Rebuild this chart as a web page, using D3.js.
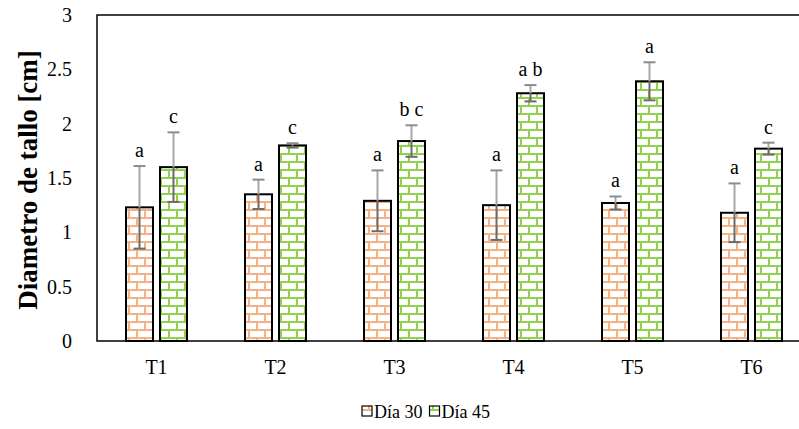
<!DOCTYPE html>
<html><head><meta charset="utf-8">
<script src="https://cdn.jsdelivr.net/npm/d3@7"></script>
<style>body{margin:0;background:#fff}svg{display:block}
svg text{font-family:"Liberation Serif","Times New Roman",serif;fill:#000}</style>
</head><body>
<svg id="c" width="799" height="429"></svg>
<script>
const categories = ["T1","T2","T3","T4","T5","T6"];
const seriesNames = ["Día 30","Día 45"];
const dia30 = [1.23, 1.35, 1.29, 1.25, 1.27, 1.18];
const dia45 = [1.60, 1.80, 1.84, 2.28, 2.39, 1.77];
const err30 = [0.38, 0.135, 0.28, 0.32, 0.06, 0.27];
const err45 = [0.32, 0.02, 0.145, 0.075, 0.175, 0.055];
const letters30 = ["a","a","a","a","a","a"];
const letters45 = ["c","c","b c","a b","a","c"];
const yTicks = [0,0.5,1,1.5,2,2.5,3];

(function(){
const svg = d3.select("#c");
const pL = 97, pT = 15, pB = 341, pR = 811;

const defs = svg.append("defs");
function brick(id, color){
  const p = defs.append("pattern").attr("id", id).attr("patternUnits","userSpaceOnUse")
    .attr("width",16).attr("height",16).attr("x",0).attr("y",1);
  p.append("rect").attr("width",16).attr("height",16).attr("fill","#fff");
  p.append("path").attr("d","M0,1H16M0,9H16M1,1V9M9,9V17")
    .attr("stroke",color).attr("stroke-width",2).attr("fill","none");
}
brick("p30","#f4b183");
brick("p45","#92d050");

const x = d3.scaleBand().domain(categories).range([pL,pR]).paddingInner(0).paddingOuter(0);
const xs = d3.scaleBand().domain(seriesNames).range([0,x.bandwidth()]).paddingInner(0.206).paddingOuter(0.853);
const y = d3.scaleLinear().domain([0,3]).range([pB,pT]);

svg.append("rect").attr("x",pL).attr("y",pT).attr("width",pR-pL).attr("height",pB-pT)
  .attr("fill","none").attr("stroke","#000").attr("stroke-width",1.5);

svg.append("g").selectAll("text").data(yTicks).join("text")
  .attr("x",72).attr("y",d=>y(d)).attr("dy","0.35em").attr("text-anchor","end")
  .style("font-size","20px").text(d=>d);

svg.append("g").selectAll("text").data(categories).join("text")
  .attr("x",d=>x(d)+x.bandwidth()/2).attr("y",374).attr("text-anchor","middle")
  .style("font-size","20px").text(d=>d);

svg.append("text").attr("transform","translate(28,180) rotate(-90)")
  .attr("text-anchor","middle").attr("dy","0.35em")
  .style("font-size","27px").style("font-weight","bold")
  .text("Diametro de tallo [cm]");

const series = [
  {name:"Día 30", vals:dia30, errs:err30, lets:letters30, pat:"url(#p30)"},
  {name:"Día 45", vals:dia45, errs:err45, lets:letters45, pat:"url(#p45)"}
];

series.forEach(s=>{
  const g = svg.append("g");
  categories.forEach((c,i)=>{
    const bx = x(c)+xs(s.name), bw = xs.bandwidth();
    const v = s.vals[i], e = s.errs[i];
    g.append("rect").attr("x",bx).attr("y",y(v)).attr("width",bw).attr("height",y(0)-y(v))
      .attr("fill",s.pat).attr("stroke","#000").attr("stroke-width",2);
    const cx = bx+bw/2;
    g.append("line").attr("x1",cx).attr("x2",cx).attr("y1",y(v+e)).attr("y2",y(v))
      .attr("stroke","#a6a6a6").attr("stroke-width",2);
    g.append("line").attr("x1",cx).attr("x2",cx).attr("y1",y(v)).attr("y2",y(v-e))
      .attr("stroke","#6b6b6b").attr("stroke-width",2);
    g.append("line").attr("x1",cx-6).attr("x2",cx+6).attr("y1",y(v+e)).attr("y2",y(v+e))
      .attr("stroke","#8c8c8c").attr("stroke-width",2);
    g.append("line").attr("x1",cx-6).attr("x2",cx+6).attr("y1",y(v-e)).attr("y2",y(v-e))
      .attr("stroke","#6b6b6b").attr("stroke-width",2);
    g.append("text").attr("x",cx).attr("y",y(v+e)-9).attr("text-anchor","middle")
      .style("font-size","20px").text(s.lets[i]);
  });
});

const leg = svg.append("g");
let lx = 362;
series.forEach((s,i)=>{
  leg.append("rect").attr("x",lx).attr("y",406).attr("width",10).attr("height",10)
    .attr("fill",s.pat).attr("stroke","#000").attr("stroke-width",1.2);
  const t = leg.append("text").attr("x",lx+12).attr("y",418)
    .style("font-size","18px").text(s.name);
  lx = lx + 12 + t.node().getComputedTextLength() + 7;
});
})();
</script>
</body></html>
